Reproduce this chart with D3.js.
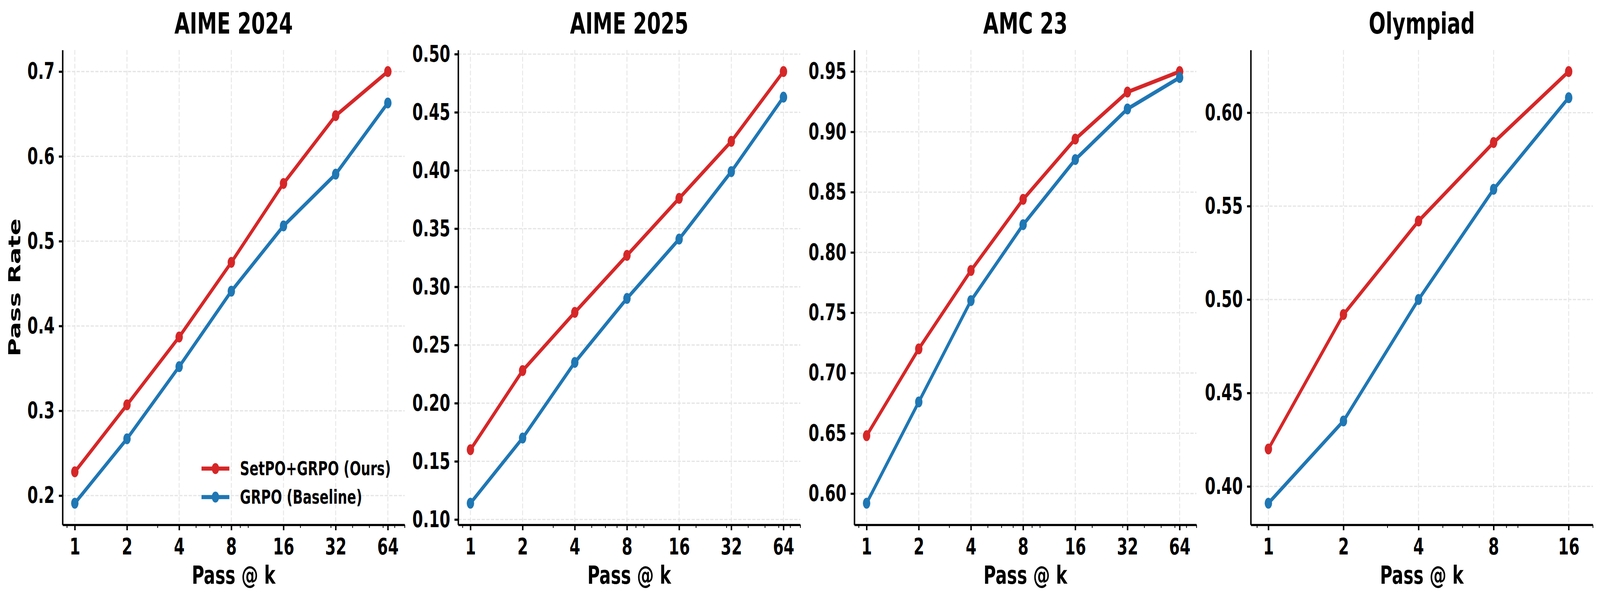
<!DOCTYPE html>
<html>
<head>
<meta charset="utf-8">
<script src="https://cdn.jsdelivr.net/npm/d3@7"></script>
<style>
  html, body { margin: 0; padding: 0; background: #fff; overflow: hidden; }
  #chart { display: block; width: 100vw; height: 100vh; }
  svg text { font-family: "DejaVu Sans", sans-serif; font-weight: bold; fill: #000; }
</style>
</head>
<body>
<svg id="chart"></svg>
<script>
// pass@k values
var passK = [1, 2, 4, 8, 16, 32, 64];
var passKOlympiad = [1, 2, 4, 8, 16];

var titles = ["AIME 2024", "AIME 2025", "AMC 23", "Olympiad"];
var seriesNames = ["SetPO+GRPO (Ours)", "GRPO (Baseline)"];

var setpoAime24 = [0.228, 0.307, 0.387, 0.475, 0.568, 0.648, 0.700];
var grpoAime24  = [0.191, 0.267, 0.352, 0.441, 0.518, 0.579, 0.663];

var setpoAime25 = [0.160, 0.228, 0.278, 0.327, 0.376, 0.425, 0.485];
var grpoAime25  = [0.114, 0.170, 0.235, 0.290, 0.341, 0.399, 0.463];

var setpoAmc23 = [0.648, 0.720, 0.785, 0.844, 0.894, 0.933, 0.950];
var grpoAmc23  = [0.592, 0.676, 0.760, 0.823, 0.877, 0.919, 0.945];

var setpoOlympiad = [0.420, 0.492, 0.542, 0.584, 0.622];
var grpoOlympiad  = [0.391, 0.435, 0.500, 0.559, 0.608];

var yTicksAime24   = [0.2, 0.3, 0.4, 0.5, 0.6, 0.7];
var yTicksAime25   = [0.10, 0.15, 0.20, 0.25, 0.30, 0.35, 0.40, 0.45, 0.50];
var yTicksAmc23    = [0.60, 0.65, 0.70, 0.75, 0.80, 0.85, 0.90, 0.95];
var yTicksOlympiad = [0.40, 0.45, 0.50, 0.55, 0.60];

var colors = ["#d62728", "#1f77b4"];

var panels = [
  { title: titles[0], k: passK, series: [setpoAime24, grpoAime24], yTicks: yTicksAime24, fmt: ".1f" },
  { title: titles[1], k: passK, series: [setpoAime25, grpoAime25], yTicks: yTicksAime25, fmt: ".2f" },
  { title: titles[2], k: passK, series: [setpoAmc23, grpoAmc23], yTicks: yTicksAmc23, fmt: ".2f" },
  { title: titles[3], k: passKOlympiad, series: [setpoOlympiad, grpoOlympiad], yTicks: yTicksOlympiad, fmt: ".2f" }
];

var W = 6034, H = 1534;
var lefts = [236, 1728, 3222, 4717];
var plotW = 1290, plotTop = 128, plotH = 1216;

// drawn in 6034x1534 units, fills the window
var svg = d3.select("#chart")
  .attr("viewBox", "0 0 " + W + " " + H)
  .attr("preserveAspectRatio", "none");
svg.append("rect").attr("width", W).attr("height", H).attr("fill", "#fff");

panels.forEach(function(p, pi) {
  var g = svg.append("g").attr("transform", "translate(" + lefts[pi] + "," + plotTop + ")");

  var kMax = d3.max(p.k);
  var x = d3.scaleLog().base(10).domain([0.85, kMax * 1.25]).range([0, plotW]);

  var all = d3.merge(p.series);
  var ext = d3.extent(all), pad = (ext[1] - ext[0]) * 0.05;
  var y = d3.scaleLinear().domain([ext[0] - pad, ext[1] + pad]).range([plotH, 0]);

  // grid
  var grid = g.append("g").attr("class", "grid")
    .attr("stroke", "#e6e6e6").attr("stroke-width", 3.3).attr("stroke-dasharray", "12.3,5.3");
  grid.selectAll(".gx").data(p.k).enter().append("line")
    .attr("x1", function(d) { return x(d); }).attr("x2", function(d) { return x(d); })
    .attr("y1", 0).attr("y2", plotH);
  grid.selectAll(".gy").data(p.yTicks).enter().append("line")
    .attr("y1", function(d) { return y(d); }).attr("y2", function(d) { return y(d); })
    .attr("x1", 0).attr("x2", plotW);

  // lines + markers
  var line = d3.line()
    .x(function(d, i) { return x(p.k[i]); })
    .y(function(d) { return y(d); });

  p.series.forEach(function(vals, si) {
    g.append("path").datum(vals)
      .attr("d", line)
      .attr("fill", "none")
      .attr("stroke", colors[si])
      .attr("stroke-width", 10.4)
      .attr("stroke-linejoin", "round")
      .attr("stroke-linecap", "square");
    g.selectAll(".pt" + si).data(vals).enter().append("circle")
      .attr("cx", function(d, i) { return x(p.k[i]); })
      .attr("cy", function(d) { return y(d); })
      .attr("r", 14)
      .attr("fill", colors[si]);
  });

  // minor x ticks (log10 subs)
  var minor = x.ticks().filter(function(t) { return p.k.indexOf(t) < 0; });
  var xMinor = g.append("g").attr("transform", "translate(0," + plotH + ")")
    .call(d3.axisBottom(x).tickValues(minor).tickSize(8).tickSizeOuter(0).tickFormat(""));
  xMinor.select(".domain").remove();
  xMinor.selectAll(".tick line").attr("stroke", "#000").attr("stroke-width", 3);

  // major x axis
  var xAxis = g.append("g").attr("transform", "translate(0," + plotH + ")")
    .call(d3.axisBottom(x).tickValues(p.k).tickSize(14).tickSizeOuter(0).tickPadding(21)
      .tickFormat(d3.format("d")));
  xAxis.select(".domain").attr("stroke", "#000").attr("stroke-width", 5.5);
  xAxis.selectAll(".tick line").attr("stroke", "#000").attr("stroke-width", 5.5);
  xAxis.selectAll(".tick text").style("font-size", "58px").attr("fill", "#000");

  // y axis
  var yAxis = g.append("g")
    .call(d3.axisLeft(y).tickValues(p.yTicks).tickSize(14).tickSizeOuter(0).tickPadding(16)
      .tickFormat(d3.format(p.fmt)));
  yAxis.select(".domain").attr("stroke", "#000").attr("stroke-width", 5.5);
  yAxis.selectAll(".tick line").attr("stroke", "#000").attr("stroke-width", 5.5);
  yAxis.selectAll(".tick text").style("font-size", "58px").attr("fill", "#000");

  // title and labels
  g.append("text").attr("x", plotW / 2).attr("y", 86 - plotTop)
    .attr("text-anchor", "middle").style("font-size", "75px").text(p.title);

  g.append("text").attr("x", plotW / 2).attr("y", 1495 - plotTop)
    .attr("text-anchor", "middle").style("font-size", "64px").text("Pass @ k");

  if (pi === 0) {
    g.append("text")
      .attr("transform", "translate(" + (77 - lefts[0]) + "," + (plotH / 2) + ") rotate(-90)")
      .attr("text-anchor", "middle").style("font-size", "64px").text("Pass Rate");

    // legend, lower right, no frame
    var leg = g.append("g");
    var labels = leg.selectAll(".lt").data(seriesNames).enter().append("text")
      .style("font-size", "50px")
      .attr("dy", "0.35em")
      .attr("y", function(d, i) { return plotH - 144 + i * 73; })
      .text(function(d) { return d; });
    var maxW = 0;
    labels.each(function() { maxW = Math.max(maxW, this.getComputedTextLength()); });
    var textX = plotW - 52 - maxW;
    labels.attr("x", textX);
    seriesNames.forEach(function(name, i) {
      var ly = plotH - 144 + i * 73;
      leg.append("line").attr("x1", textX - 145).attr("x2", textX - 40)
        .attr("y1", ly).attr("y2", ly)
        .attr("stroke", colors[i]).attr("stroke-width", 10.4);
      leg.append("circle").attr("cx", textX - 92.5).attr("cy", ly).attr("r", 14)
        .attr("fill", colors[i]);
    });
  }
});
</script>
</body>
</html>
